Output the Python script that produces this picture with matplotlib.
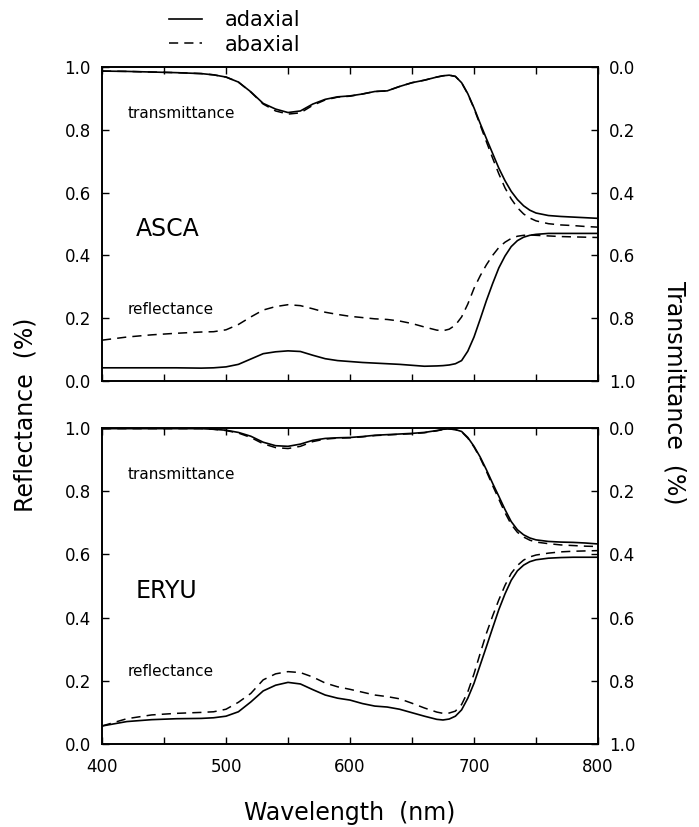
import numpy as np
import matplotlib.pyplot as plt
from matplotlib.ticker import MultipleLocator

plt.rcParams["font.family"] = ["DejaVu Sans"]

# wavelength grid (nm), shared by all series
wl = [400, 420, 440, 460, 480, 490, 500, 510, 520, 530, 540, 550, 560, 570, 580,
      590, 600, 610, 620, 630, 640, 650, 660, 670, 675, 680, 685, 690, 695, 700,
      705, 710, 715, 720, 725, 730, 735, 740, 745, 750, 760, 770, 780, 790, 800]

# ASCA
asca_T_ad = [0.013, 0.014, 0.016, 0.018, 0.021, 0.025, 0.032, 0.048, 0.079, 0.116, 0.134, 0.145, 0.140, 0.118, 0.103,
             0.095, 0.092, 0.086, 0.078, 0.076, 0.062, 0.050, 0.042, 0.032, 0.028, 0.026, 0.030, 0.050, 0.085, 0.130,
             0.180, 0.228, 0.275, 0.322, 0.362, 0.396, 0.422, 0.442, 0.456, 0.465, 0.473, 0.476, 0.478, 0.480, 0.482]
asca_T_ab = [0.013, 0.014, 0.016, 0.018, 0.021, 0.025, 0.032, 0.048, 0.080, 0.118, 0.140, 0.150, 0.146, 0.122, 0.105,
             0.096, 0.093, 0.086, 0.078, 0.076, 0.062, 0.050, 0.042, 0.032, 0.028, 0.026, 0.030, 0.050, 0.086, 0.132,
             0.185, 0.238, 0.290, 0.340, 0.385, 0.420, 0.448, 0.468, 0.481, 0.490, 0.499, 0.503, 0.505, 0.508, 0.510]
asca_R_ad = [0.042, 0.042, 0.042, 0.042, 0.041, 0.042, 0.045, 0.053, 0.070, 0.087, 0.093, 0.096, 0.094, 0.082, 0.071,
             0.065, 0.062, 0.059, 0.057, 0.055, 0.053, 0.050, 0.047, 0.048, 0.049, 0.051, 0.055, 0.065, 0.095, 0.140,
             0.197, 0.256, 0.310, 0.360, 0.398, 0.428, 0.447, 0.458, 0.464, 0.467, 0.470, 0.470, 0.470, 0.470, 0.470]
asca_R_ab = [0.130, 0.140, 0.147, 0.152, 0.156, 0.157, 0.163, 0.180, 0.204, 0.226, 0.237, 0.243, 0.240, 0.230, 0.219,
             0.212, 0.206, 0.202, 0.198, 0.196, 0.191, 0.183, 0.172, 0.162, 0.160, 0.165, 0.178, 0.204, 0.245, 0.295,
             0.335, 0.370, 0.400, 0.425, 0.442, 0.454, 0.461, 0.464, 0.465, 0.464, 0.462, 0.460, 0.459, 0.458, 0.457]

# ERYU
eryu_T_ad = [0.002, 0.002, 0.002, 0.002, 0.002, 0.004, 0.007, 0.014, 0.026, 0.045, 0.056, 0.058, 0.051, 0.039, 0.033,
             0.031, 0.030, 0.027, 0.023, 0.021, 0.019, 0.017, 0.014, 0.008, 0.004, 0.003, 0.005, 0.011, 0.030, 0.058,
             0.092, 0.132, 0.175, 0.216, 0.258, 0.296, 0.322, 0.338, 0.348, 0.354, 0.359, 0.361, 0.362, 0.364, 0.367]
eryu_T_ab = [0.002, 0.002, 0.002, 0.002, 0.002, 0.004, 0.008, 0.016, 0.030, 0.050, 0.062, 0.065, 0.058, 0.043, 0.035,
             0.032, 0.031, 0.028, 0.024, 0.022, 0.020, 0.018, 0.015, 0.009, 0.005, 0.003, 0.005, 0.012, 0.032, 0.060,
             0.095, 0.137, 0.182, 0.225, 0.268, 0.305, 0.330, 0.345, 0.355, 0.361, 0.366, 0.370, 0.372, 0.374, 0.375]
eryu_R_ad = [0.057, 0.071, 0.077, 0.080, 0.081, 0.083, 0.088, 0.102, 0.133, 0.168, 0.186, 0.195, 0.190, 0.172, 0.155,
             0.145, 0.139, 0.128, 0.120, 0.117, 0.110, 0.099, 0.088, 0.078, 0.076, 0.079, 0.088, 0.108, 0.145, 0.192,
             0.250, 0.308, 0.367, 0.425, 0.475, 0.518, 0.548, 0.566, 0.577, 0.583, 0.588, 0.590, 0.591, 0.591, 0.591]
eryu_R_ab = [0.057, 0.080, 0.092, 0.097, 0.100, 0.102, 0.110, 0.132, 0.160, 0.203, 0.222, 0.229, 0.226, 0.212, 0.193,
             0.181, 0.173, 0.164, 0.155, 0.150, 0.143, 0.129, 0.114, 0.101, 0.097, 0.098, 0.104, 0.125, 0.165, 0.222,
             0.287, 0.350, 0.405, 0.456, 0.502, 0.540, 0.565, 0.582, 0.592, 0.598, 0.604, 0.608, 0.610, 0.611, 0.612]

panels = [("ASCA", asca_R_ad, asca_R_ab, asca_T_ad, asca_T_ab),
          ("ERYU", eryu_R_ad, eryu_R_ab, eryu_T_ad, eryu_T_ab)]

W, H = 699, 827
fig = plt.figure(figsize=(W / 100, H / 100), dpi=100)

# axes boxes in pixels: left, top, right, bottom
boxes = [(102, 67, 598, 381), (102, 428, 598, 744)]

solid = dict(color="black", lw=1.2, ls="-")
dashed = dict(color="black", lw=1.1, ls=(0, (6, 4)))

for i, ((name, r_ad, r_ab, t_ad, t_ab), (l, t, r, b)) in enumerate(zip(panels, boxes)):
    ax = fig.add_axes([l / W, 1 - b / H, (r - l) / W, (b - t) / H])
    ax2 = ax.twinx()

    h1, = ax.plot(wl, r_ad, **solid)
    h2, = ax.plot(wl, r_ab, **dashed)
    ax2.plot(wl, t_ad, **solid)
    ax2.plot(wl, t_ab, **dashed)

    ax.set_xlim(400, 800)
    ax.set_ylim(0, 1)
    ax2.set_ylim(1, 0)
    ax.xaxis.set_major_locator(MultipleLocator(100))
    ax.xaxis.set_minor_locator(MultipleLocator(50))
    ax.yaxis.set_major_locator(MultipleLocator(0.2))
    ax2.yaxis.set_major_locator(MultipleLocator(0.2))
    ax.yaxis.set_major_formatter("{x:.1f}")
    ax2.yaxis.set_major_formatter("{x:.1f}")

    for a in (ax, ax2):
        a.tick_params(direction="in", length=5, width=1.0, labelsize=12, pad=8)
        a.tick_params(which="minor", direction="in", length=5, width=1.0)
        for s in a.spines.values():
            s.set_linewidth(1.2)
    ax.tick_params(axis="x", which="both", top=True)
    if i == 0:
        ax.tick_params(axis="x", labelbottom=False)
    else:
        ax.tick_params(axis="x", pad=10)

    ax.text(421, 0.852, "transmittance", fontsize=11, va="center")
    ax.text(427, 0.485, name, fontsize=17, va="center")
    ax.text(421, 0.228, "reflectance", fontsize=11, va="center")

    if i == 0:
        fig.legend([h1, h2], ["adaxial", "abaxial"], loc="upper left",
                   bbox_to_anchor=(150 / W, 1.01), frameon=False, fontsize=15,
                   handlelength=1.6, handletextpad=1.1, labelspacing=0.2)

fig.text(25 / W, 1 - 415 / H, "Reflectance  (%)", rotation=90, fontsize=17,
         ha="center", va="center")
fig.text(674 / W, 1 - 393 / H, "Transmittance  (%)", rotation=-90, fontsize=17,
         ha="center", va="center")
fig.text(350 / W, 1 - 813 / H, "Wavelength  (nm)", fontsize=17,
         ha="center", va="center")

fig.savefig("out.png", dpi=100)
